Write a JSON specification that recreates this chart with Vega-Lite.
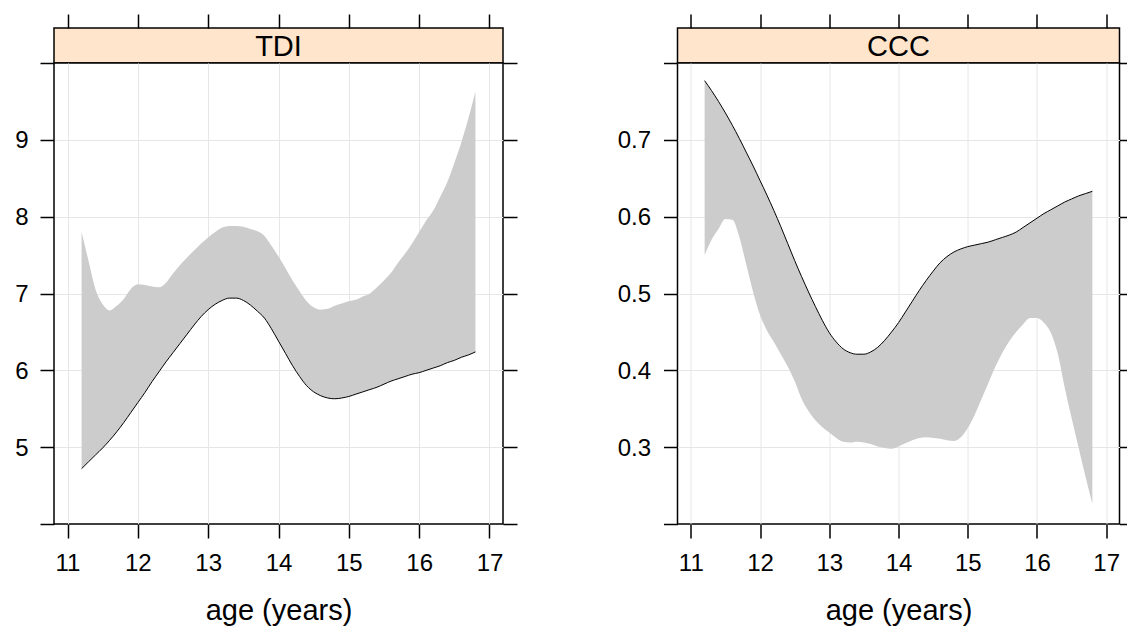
{
  "$schema": "https://vega.github.io/schema/vega-lite/v6.json",
  "background": "white",
  "padding": {"left": 13, "top": 12, "right": 0, "bottom": 0},
  "config": {
    "font": "Liberation Sans",
    "view": {"stroke": "black", "strokeWidth": 1.5, "fill": "white"},
    "axis": {
      "domain": false,
      "tickColor": "black",
      "tickWidth": 1.5,
      "labelColor": "black",
      "labelFontSize": 24,
      "labelFlush": false,
      "labelOverlap": false,
      "titleColor": "black",
      "titleFontSize": 29,
      "titleFontWeight": "normal"
    }
  },
  "data": {
    "values": [
      {"panel": "TDI", "age": 11.2, "est": 4.72, "bound": 7.80},
      {"panel": "TDI", "age": 11.3, "est": 4.81, "bound": 7.42},
      {"panel": "TDI", "age": 11.4, "est": 4.90, "bound": 7.05},
      {"panel": "TDI", "age": 11.5, "est": 4.99, "bound": 6.86},
      {"panel": "TDI", "age": 11.6, "est": 5.09, "bound": 6.78},
      {"panel": "TDI", "age": 11.7, "est": 5.20, "bound": 6.84},
      {"panel": "TDI", "age": 11.8, "est": 5.32, "bound": 6.93},
      {"panel": "TDI", "age": 11.9, "est": 5.45, "bound": 7.06},
      {"panel": "TDI", "age": 12.0, "est": 5.58, "bound": 7.12},
      {"panel": "TDI", "age": 12.1, "est": 5.71, "bound": 7.11},
      {"panel": "TDI", "age": 12.2, "est": 5.85, "bound": 7.09},
      {"panel": "TDI", "age": 12.3, "est": 5.98, "bound": 7.08},
      {"panel": "TDI", "age": 12.4, "est": 6.11, "bound": 7.14},
      {"panel": "TDI", "age": 12.5, "est": 6.23, "bound": 7.26},
      {"panel": "TDI", "age": 12.6, "est": 6.35, "bound": 7.37},
      {"panel": "TDI", "age": 12.7, "est": 6.47, "bound": 7.47},
      {"panel": "TDI", "age": 12.8, "est": 6.59, "bound": 7.56},
      {"panel": "TDI", "age": 12.9, "est": 6.70, "bound": 7.65},
      {"panel": "TDI", "age": 13.0, "est": 6.79, "bound": 7.73},
      {"panel": "TDI", "age": 13.1, "est": 6.86, "bound": 7.80},
      {"panel": "TDI", "age": 13.2, "est": 6.91, "bound": 7.86},
      {"panel": "TDI", "age": 13.3, "est": 6.94, "bound": 7.88},
      {"panel": "TDI", "age": 13.4, "est": 6.94, "bound": 7.88},
      {"panel": "TDI", "age": 13.5, "est": 6.91, "bound": 7.87},
      {"panel": "TDI", "age": 13.6, "est": 6.85, "bound": 7.84},
      {"panel": "TDI", "age": 13.7, "est": 6.77, "bound": 7.81},
      {"panel": "TDI", "age": 13.8, "est": 6.68, "bound": 7.75},
      {"panel": "TDI", "age": 13.9, "est": 6.54, "bound": 7.62},
      {"panel": "TDI", "age": 14.0, "est": 6.38, "bound": 7.48},
      {"panel": "TDI", "age": 14.1, "est": 6.22, "bound": 7.33},
      {"panel": "TDI", "age": 14.2, "est": 6.06, "bound": 7.17},
      {"panel": "TDI", "age": 14.3, "est": 5.92, "bound": 7.03},
      {"panel": "TDI", "age": 14.4, "est": 5.80, "bound": 6.90},
      {"panel": "TDI", "age": 14.5, "est": 5.72, "bound": 6.82},
      {"panel": "TDI", "age": 14.6, "est": 5.67, "bound": 6.79},
      {"panel": "TDI", "age": 14.7, "est": 5.64, "bound": 6.80},
      {"panel": "TDI", "age": 14.8, "est": 5.63, "bound": 6.84},
      {"panel": "TDI", "age": 14.9, "est": 5.64, "bound": 6.87},
      {"panel": "TDI", "age": 15.0, "est": 5.66, "bound": 6.90},
      {"panel": "TDI", "age": 15.1, "est": 5.69, "bound": 6.92},
      {"panel": "TDI", "age": 15.2, "est": 5.72, "bound": 6.96},
      {"panel": "TDI", "age": 15.3, "est": 5.75, "bound": 7.00},
      {"panel": "TDI", "age": 15.4, "est": 5.78, "bound": 7.08},
      {"panel": "TDI", "age": 15.5, "est": 5.82, "bound": 7.17},
      {"panel": "TDI", "age": 15.6, "est": 5.86, "bound": 7.27},
      {"panel": "TDI", "age": 15.7, "est": 5.89, "bound": 7.40},
      {"panel": "TDI", "age": 15.8, "est": 5.92, "bound": 7.52},
      {"panel": "TDI", "age": 15.9, "est": 5.95, "bound": 7.65},
      {"panel": "TDI", "age": 16.0, "est": 5.97, "bound": 7.80},
      {"panel": "TDI", "age": 16.1, "est": 6.00, "bound": 7.95},
      {"panel": "TDI", "age": 16.2, "est": 6.03, "bound": 8.08},
      {"panel": "TDI", "age": 16.3, "est": 6.06, "bound": 8.26},
      {"panel": "TDI", "age": 16.4, "est": 6.10, "bound": 8.45},
      {"panel": "TDI", "age": 16.5, "est": 6.13, "bound": 8.70},
      {"panel": "TDI", "age": 16.6, "est": 6.17, "bound": 8.97},
      {"panel": "TDI", "age": 16.7, "est": 6.20, "bound": 9.28},
      {"panel": "TDI", "age": 16.8, "est": 6.24, "bound": 9.63},
      {"panel": "CCC", "age": 11.2, "est": 0.777, "bound": 0.550},
      {"panel": "CCC", "age": 11.3, "est": 0.764, "bound": 0.570},
      {"panel": "CCC", "age": 11.4, "est": 0.750, "bound": 0.584},
      {"panel": "CCC", "age": 11.5, "est": 0.735, "bound": 0.597},
      {"panel": "CCC", "age": 11.6, "est": 0.719, "bound": 0.596},
      {"panel": "CCC", "age": 11.7, "est": 0.702, "bound": 0.574},
      {"panel": "CCC", "age": 11.8, "est": 0.684, "bound": 0.538},
      {"panel": "CCC", "age": 11.9, "est": 0.666, "bound": 0.502},
      {"panel": "CCC", "age": 12.0, "est": 0.647, "bound": 0.472},
      {"panel": "CCC", "age": 12.1, "est": 0.628, "bound": 0.452},
      {"panel": "CCC", "age": 12.2, "est": 0.608, "bound": 0.437},
      {"panel": "CCC", "age": 12.3, "est": 0.587, "bound": 0.421},
      {"panel": "CCC", "age": 12.4, "est": 0.565, "bound": 0.405},
      {"panel": "CCC", "age": 12.5, "est": 0.543, "bound": 0.386},
      {"panel": "CCC", "age": 12.6, "est": 0.522, "bound": 0.363},
      {"panel": "CCC", "age": 12.7, "est": 0.502, "bound": 0.347},
      {"panel": "CCC", "age": 12.8, "est": 0.483, "bound": 0.335},
      {"panel": "CCC", "age": 12.9, "est": 0.465, "bound": 0.326},
      {"panel": "CCC", "age": 13.0, "est": 0.449, "bound": 0.319},
      {"panel": "CCC", "age": 13.1, "est": 0.437, "bound": 0.312},
      {"panel": "CCC", "age": 13.2, "est": 0.428, "bound": 0.307},
      {"panel": "CCC", "age": 13.3, "est": 0.423, "bound": 0.306},
      {"panel": "CCC", "age": 13.4, "est": 0.421, "bound": 0.307},
      {"panel": "CCC", "age": 13.5, "est": 0.421, "bound": 0.306},
      {"panel": "CCC", "age": 13.6, "est": 0.424, "bound": 0.304},
      {"panel": "CCC", "age": 13.7, "est": 0.430, "bound": 0.301},
      {"panel": "CCC", "age": 13.8, "est": 0.439, "bound": 0.299},
      {"panel": "CCC", "age": 13.9, "est": 0.450, "bound": 0.298},
      {"panel": "CCC", "age": 14.0, "est": 0.462, "bound": 0.301},
      {"panel": "CCC", "age": 14.1, "est": 0.476, "bound": 0.305},
      {"panel": "CCC", "age": 14.2, "est": 0.490, "bound": 0.309},
      {"panel": "CCC", "age": 14.3, "est": 0.504, "bound": 0.312},
      {"panel": "CCC", "age": 14.4, "est": 0.517, "bound": 0.313},
      {"panel": "CCC", "age": 14.5, "est": 0.529, "bound": 0.312},
      {"panel": "CCC", "age": 14.6, "est": 0.540, "bound": 0.311},
      {"panel": "CCC", "age": 14.7, "est": 0.548, "bound": 0.309},
      {"panel": "CCC", "age": 14.8, "est": 0.554, "bound": 0.308},
      {"panel": "CCC", "age": 14.9, "est": 0.558, "bound": 0.313},
      {"panel": "CCC", "age": 15.0, "est": 0.561, "bound": 0.325},
      {"panel": "CCC", "age": 15.1, "est": 0.563, "bound": 0.342},
      {"panel": "CCC", "age": 15.2, "est": 0.565, "bound": 0.363},
      {"panel": "CCC", "age": 15.3, "est": 0.567, "bound": 0.384},
      {"panel": "CCC", "age": 15.4, "est": 0.570, "bound": 0.405},
      {"panel": "CCC", "age": 15.5, "est": 0.573, "bound": 0.423},
      {"panel": "CCC", "age": 15.6, "est": 0.576, "bound": 0.438},
      {"panel": "CCC", "age": 15.7, "est": 0.580, "bound": 0.450},
      {"panel": "CCC", "age": 15.8, "est": 0.586, "bound": 0.460},
      {"panel": "CCC", "age": 15.9, "est": 0.592, "bound": 0.468},
      {"panel": "CCC", "age": 16.0, "est": 0.598, "bound": 0.468},
      {"panel": "CCC", "age": 16.1, "est": 0.604, "bound": 0.462},
      {"panel": "CCC", "age": 16.2, "est": 0.609, "bound": 0.449},
      {"panel": "CCC", "age": 16.3, "est": 0.614, "bound": 0.422},
      {"panel": "CCC", "age": 16.4, "est": 0.619, "bound": 0.378},
      {"panel": "CCC", "age": 16.5, "est": 0.623, "bound": 0.338},
      {"panel": "CCC", "age": 16.6, "est": 0.627, "bound": 0.300},
      {"panel": "CCC", "age": 16.7, "est": 0.630, "bound": 0.262},
      {"panel": "CCC", "age": 16.8, "est": 0.633, "bound": 0.226}
    ]
  },
  "spacing": 96.5,
  "hconcat": [
    {
      "bounds": "flush",
      "spacing": 0,
      "vconcat": [
        {
          "width": 449,
          "height": 35,
          "view": {"fill": "#ffe5cc", "stroke": "black", "strokeWidth": 1.5},
          "transform": [{"filter": "datum.panel === 'TDI'"}],
          "mark": {"type": "text", "fontSize": 29, "dy": 1.5, "color": "black"},
          "encoding": {
            "x": {
              "aggregate": "mean", "field": "age", "type": "quantitative",
              "scale": {"domain": [10.808, 17.192], "nice": false, "zero": false},
              "axis": {"orient": "top", "values": [11, 12, 13, 14, 15, 16, 17], "labels": false, "grid": false, "tickSize": 14, "title": null}
            },
            "text": {"field": "panel"}
          }
        },
        {
          "width": 449,
          "height": 461,
          "transform": [{"filter": "datum.panel === 'TDI'"}],
          "encoding": {
            "x": {
              "field": "age", "type": "quantitative",
              "scale": {"domain": [10.808, 17.192], "nice": false, "zero": false},
              "axis": {"orient": "bottom", "values": [11, 12, 13, 14, 15, 16, 17], "title": "age (years)", "grid": true, "gridColor": "#e6e6e6", "tickSize": 14, "labelPadding": 13, "titlePadding": 21}
            }
          },
          "layer": [
            {
              "mark": {"type": "area", "color": "#cccccc", "interpolate": "monotone"},
              "encoding": {
                "y": {
                  "field": "est", "type": "quantitative",
                  "scale": {"domain": [4, 10], "nice": false, "zero": false},
                  "axis": {
                    "orient": "left", "values": [4, 5, 6, 7, 8, 9, 10], "title": null,
                    "labelExpr": "datum.value < 4.5 || datum.value > 9.5 ? '' : datum.label",
                    "grid": true,
                    "gridColor": {"condition": {"test": "datum.value < 4.5 || datum.value > 9.5", "value": "transparent"}, "value": "#e6e6e6"},
                    "tickSize": 14, "labelPadding": 12, "labelOffset": 1
                  }
                },
                "y2": {"field": "bound"}
              }
            },
            {
              "mark": {"type": "line", "color": "black", "strokeWidth": 1, "interpolate": "monotone"},
              "encoding": {
                "y": {
                  "field": "est", "type": "quantitative",
                  "scale": {"domain": [4, 10], "nice": false, "zero": false},
                  "axis": {"orient": "right", "values": [4, 5, 6, 7, 8, 9, 10], "labels": false, "grid": false, "tickSize": 14, "title": null}
                }
              }
            }
          ],
          "resolve": {"scale": {"y": "independent"}}
        }
      ]
    },
    {
      "bounds": "flush",
      "spacing": 0,
      "vconcat": [
        {
          "width": 442,
          "height": 35,
          "view": {"fill": "#ffe5cc", "stroke": "black", "strokeWidth": 1.5},
          "transform": [{"filter": "datum.panel === 'CCC'"}],
          "mark": {"type": "text", "fontSize": 29, "dy": 1.5, "color": "black"},
          "encoding": {
            "x": {
              "aggregate": "mean", "field": "age", "type": "quantitative",
              "scale": {"domain": [10.808, 17.192], "nice": false, "zero": false},
              "axis": {"orient": "top", "values": [11, 12, 13, 14, 15, 16, 17], "labels": false, "grid": false, "tickSize": 14, "title": null}
            },
            "text": {"field": "panel"}
          }
        },
        {
          "width": 442,
          "height": 461,
          "transform": [{"filter": "datum.panel === 'CCC'"}],
          "encoding": {
            "x": {
              "field": "age", "type": "quantitative",
              "scale": {"domain": [10.808, 17.192], "nice": false, "zero": false},
              "axis": {"orient": "bottom", "values": [11, 12, 13, 14, 15, 16, 17], "title": "age (years)", "grid": true, "gridColor": "#e6e6e6", "tickSize": 14, "labelPadding": 13, "titlePadding": 21}
            }
          },
          "layer": [
            {
              "mark": {"type": "area", "color": "#cccccc", "interpolate": "monotone"},
              "encoding": {
                "y": {
                  "field": "est", "type": "quantitative",
                  "scale": {"domain": [0.2, 0.8], "nice": false, "zero": false},
                  "axis": {
                    "orient": "left", "values": [0.2, 0.3, 0.4, 0.5, 0.6, 0.7, 0.8], "title": null,
                    "labelExpr": "datum.value < 0.25 || datum.value > 0.75 ? '' : format(datum.value, '.1f')",
                    "grid": true,
                    "gridColor": {"condition": {"test": "datum.value < 0.25 || datum.value > 0.75", "value": "transparent"}, "value": "#e6e6e6"},
                    "tickSize": 14, "labelPadding": 13, "labelOffset": 1
                  }
                },
                "y2": {"field": "bound"}
              }
            },
            {
              "mark": {"type": "line", "color": "black", "strokeWidth": 1, "interpolate": "monotone"},
              "encoding": {
                "y": {
                  "field": "est", "type": "quantitative",
                  "scale": {"domain": [0.2, 0.8], "nice": false, "zero": false},
                  "axis": {"orient": "right", "values": [0.2, 0.3, 0.4, 0.5, 0.6, 0.7, 0.8], "labels": false, "grid": false, "tickSize": 7, "title": null}
                }
              }
            }
          ],
          "resolve": {"scale": {"y": "independent"}}
        }
      ]
    }
  ]
}
